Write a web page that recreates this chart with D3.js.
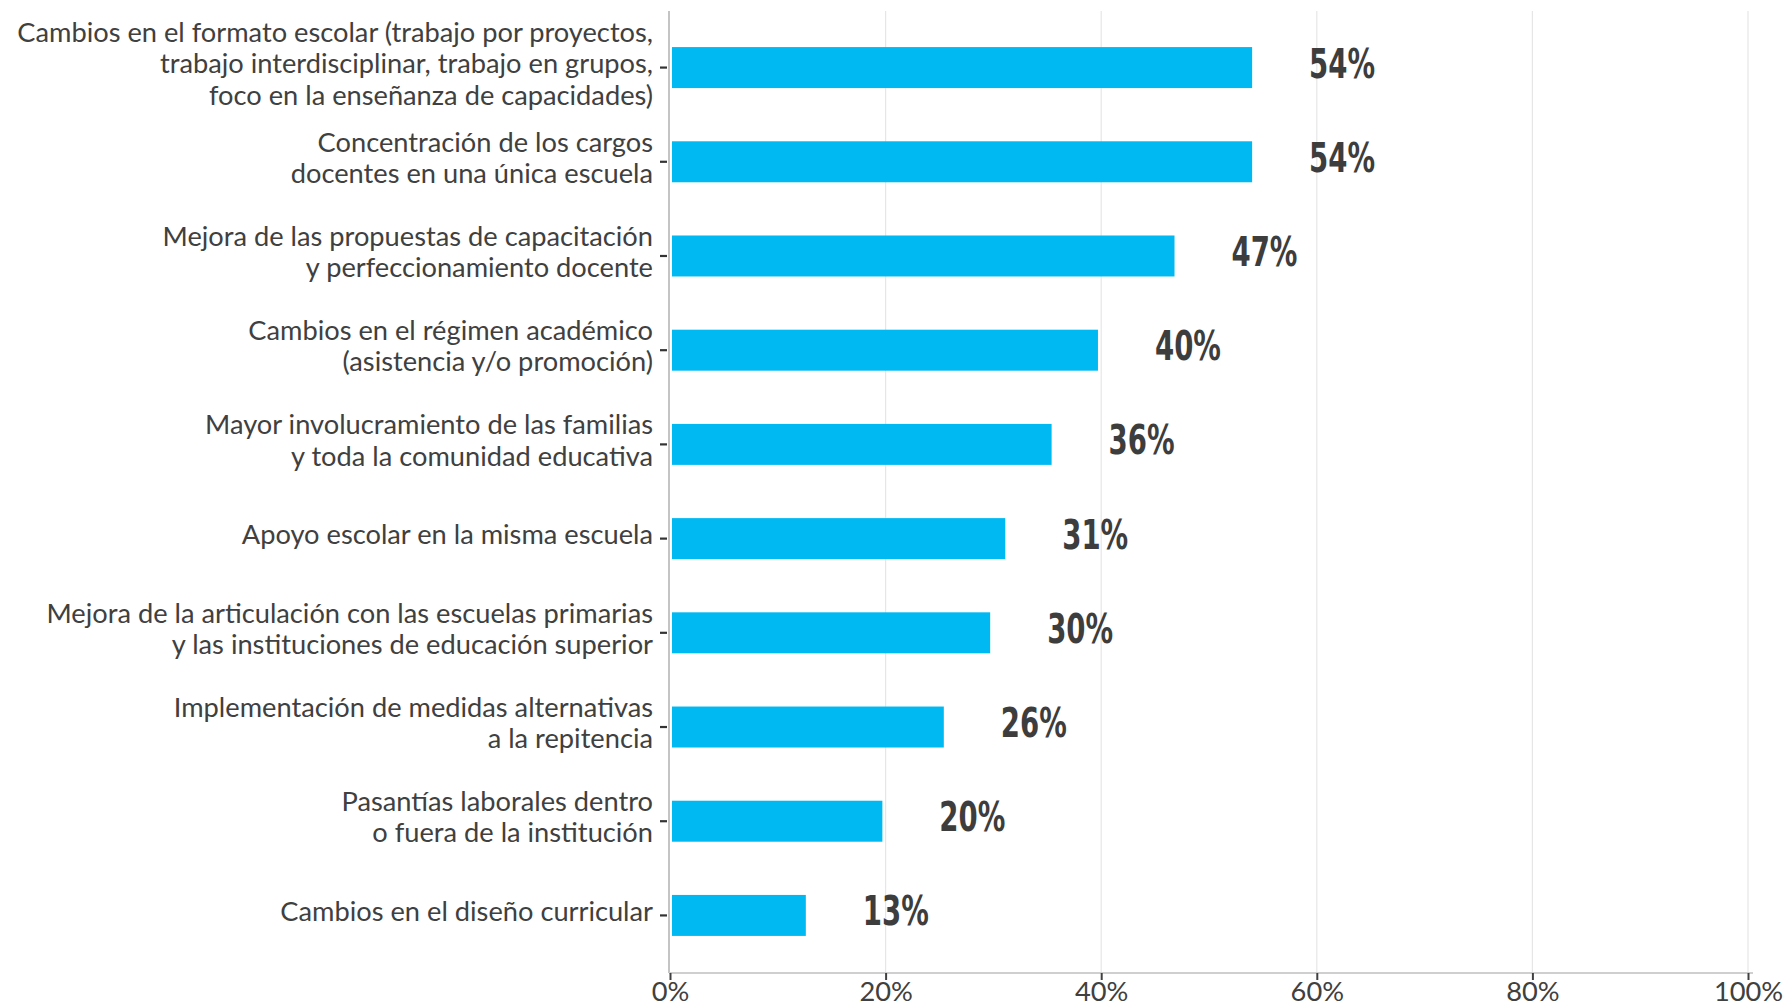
<!DOCTYPE html>
<html>
<head>
<meta charset="utf-8">
<script src="https://cdn.jsdelivr.net/npm/d3@7"></script>
<style>
  html, body { margin: 0; padding: 0; background: #ffffff; }
  svg { display: block; }
</style>
</head>
<body>
<svg id="chart" width="1787" height="1006"></svg>
<script>
// ---- Data ----
const categories = [
  "Cambios en el formato escolar (trabajo por proyectos,\ntrabajo interdisciplinar, trabajo en grupos,\nfoco en la enseñanza de capacidades)",
  "Concentración de los cargos\ndocentes en una única escuela",
  "Mejora de las propuestas de capacitación\ny perfeccionamiento docente",
  "Cambios en el régimen académico\n(asistencia y/o promoción)",
  "Mayor involucramiento de las familias\ny toda la comunidad educativa",
  "Apoyo escolar en la misma escuela",
  "Mejora de la articulación con las escuelas primarias\ny las instituciones de educación superior",
  "Implementación de medidas alternativas\na la repitencia",
  "Pasantías laborales dentro\no fuera de la institución",
  "Cambios en el diseño curricular"
];
const values = [54.0, 54.0, 46.8, 39.7, 35.4, 31.1, 29.7, 25.4, 19.7, 12.6];
const valueLabels = ["54%", "54%", "47%", "40%", "36%", "31%", "30%", "26%", "20%", "13%"];
const xTicks = [0, 20, 40, 60, 80, 100];
const xTickLabels = ["0%", "20%", "40%", "60%", "80%", "100%"];

// ---- Layout ----
const mLeft = 670, mRight = 1748, mTop = 11, mBottom = 973;
const labelFont = "Lato, 'Open Sans', 'Noto Sans', sans-serif";
const valueFont = "'Liberation Sans Narrow', 'DejaVu Sans Condensed', 'Liberation Sans', sans-serif";
const textColor = "#404040";
const barColor = "#00B9F2";

const svg = d3.select("#chart");

// fit category label font size to reference width of the longest line
const probe = svg.append("text").attr("font-family", labelFont).attr("font-size", 100)
  .text("Cambios en el formato escolar (trabajo por proyectos,");
const probeW = probe.node().getComputedTextLength();
probe.remove();
const labelSize = Math.min(30, 100 * 636 / probeW);

// fit value-label width (condensed look): "54%" ≈ 66px wide in the reference
const probe2 = svg.append("text").attr("font-family", valueFont).attr("font-weight", "bold")
  .attr("font-size", 40).text("54%");
const probe2W = probe2.node().getComputedTextLength();
probe2.remove();
const valueSX = Math.min(1, 66 / probe2W);

const x = d3.scaleLinear().domain([0, 100]).range([mLeft, mRight]);
const y = d3.scaleBand().domain(d3.range(categories.length))
  .range([mTop, mBottom - 1]).paddingInner(0.565).paddingOuter(0.383);

// gridlines
svg.append("g").selectAll("line").data(xTicks.filter(d => d > 0)).join("line")
  .attr("x1", d => x(d)).attr("x2", d => x(d))
  .attr("y1", mTop).attr("y2", mBottom)
  .attr("stroke", "#e6e6e6").attr("stroke-width", 1.2);

// bars
svg.append("g").selectAll("rect").data(values).join("rect")
  .attr("x", x(0) + 2)
  .attr("y", (d, i) => y(i))
  .attr("width", d => x(d) - x(0) - 2)
  .attr("height", y.bandwidth())
  .attr("fill", barColor);

// value labels
svg.append("g").selectAll("text").data(values).join("text")
  .attr("transform", (d, i) =>
    `translate(${x(d) + 57},${y(i) + y.bandwidth() / 2 + 10}) scale(${valueSX},1)`)
  .attr("font-family", valueFont)
  .attr("font-weight", "bold")
  .attr("font-size", 40)
  .attr("fill", "#3d3d3d")
  .text((d, i) => valueLabels[i]);

// y axis
const yAxis = d3.axisLeft(y).tickSize(7).tickSizeOuter(0).tickFormat("");
const gy = svg.append("g").attr("transform", `translate(${mLeft - 1},0)`).call(yAxis);
gy.select(".domain").attr("stroke", "#c4c4c4").attr("stroke-width", 2)
  .attr("d", `M0,${mTop}V${mBottom}`);
gy.selectAll(".tick line").attr("stroke", "#333333").attr("stroke-width", 2.2)
  .attr("x1", -2).attr("x2", -9);
gy.selectAll(".tick").each(function (d) {
  const lines = categories[d].split("\n");
  const lh = 31.5;
  const t = d3.select(this).append("text")
    .attr("fill", textColor)
    .attr("font-family", labelFont)
    .attr("font-size", labelSize)
    .attr("text-anchor", "end");
  lines.forEach((ln, k) => {
    t.append("tspan").attr("x", -16)
      .attr("y", 5.5 + (k - (lines.length - 1) / 2) * lh)
      .text(ln);
  });
});

// x axis
const xAxis = d3.axisBottom(x).tickValues(xTicks).tickSize(7).tickSizeOuter(0)
  .tickPadding(2).tickFormat((d, i) => xTickLabels[i]);
const gx = svg.append("g").attr("transform", `translate(0,${mBottom})`).call(xAxis);
gx.select(".domain").attr("stroke", "#cfcfcf").attr("stroke-width", 2)
  .attr("d", `M${mLeft - 1},0H${mRight + 5}`);
gx.selectAll(".tick line").attr("stroke", textColor).attr("stroke-width", 2);
gx.selectAll(".tick text").attr("fill", textColor)
  .attr("font-family", labelFont).attr("font-size", labelSize);
</script>
</body>
</html>
